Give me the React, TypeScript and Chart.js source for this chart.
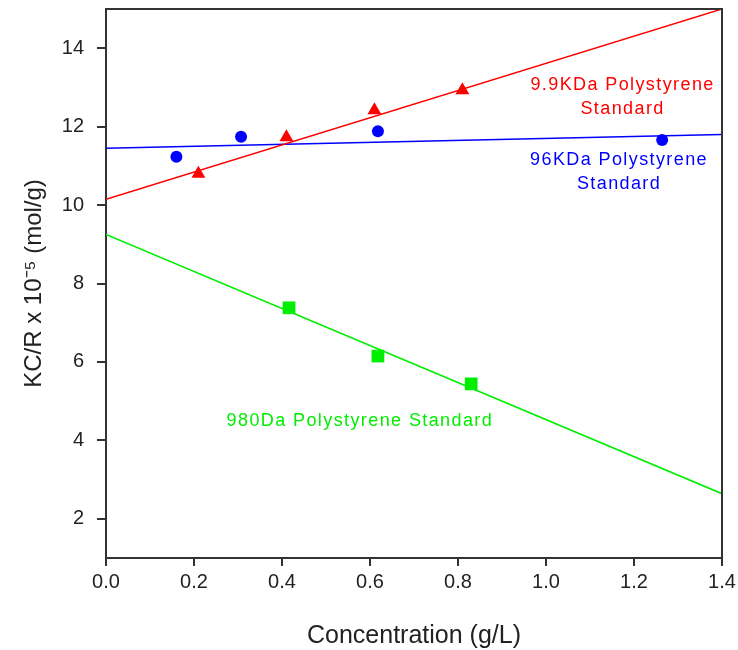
import React, { useEffect, useRef } from "react";
import { Chart, registerables } from "chart.js";

Chart.register(...registerables);

const redX = [0.21, 0.41, 0.61, 0.81];
const redY = [10.8, 11.73, 12.42, 12.93];
const blueX = [0.16, 0.307, 0.618, 1.264];
const blueY = [11.23, 11.74, 11.88, 11.66];
const greenX = [0.416, 0.618, 0.83];
const greenY = [7.38, 6.15, 5.44];

const redFitX = [0, 1.4];
const redFitY = [10.15, 15.0];
const blueFitX = [0, 1.4];
const blueFitY = [11.45, 11.8];
const greenFitX = [0, 1.4];
const greenFitY = [9.25, 2.64];

const xTicks = [0, 0.2, 0.4, 0.6, 0.8, 1.0, 1.2, 1.4];
const yTicks = [2, 4, 6, 8, 10, 12, 14];

const RED = "#ff0000";
const BLUE = "#0000ff";
const GREEN = "#00ee00";
const FONT = "'Liberation Sans', Arial, sans-serif";

const labels = [
  { lines: ["9.9KDa Polystyrene", "Standard"], x: 1.174, y: 13.05, color: RED },
  { lines: ["96KDa Polystyrene", "Standard"], x: 1.166, y: 11.15, color: BLUE },
  { lines: ["980Da Polystyrene Standard"], x: 0.577, y: 4.5, color: GREEN },
];

const pts = (xs: number[], ys: number[]) => xs.map((x, i) => ({ x, y: ys[i] }));

export default function App() {
  const ref = useRef<HTMLCanvasElement | null>(null);
  useEffect(() => {
    if (!ref.current) return;
    const framePlugin = {
      id: "frame",
      afterDraw(chart: any) {
        const { ctx, chartArea, scales } = chart;
        ctx.save();
        ctx.strokeStyle = "#333";
        ctx.lineWidth = 2;
        ctx.beginPath();
        ctx.moveTo(chartArea.left, chartArea.top);
        ctx.lineTo(chartArea.right, chartArea.top);
        ctx.lineTo(chartArea.right, chartArea.bottom);
        ctx.stroke();
        ctx.font = `18px ${FONT}`;
        try { (ctx as any).letterSpacing = "1.4px"; } catch (e) {}
        ctx.textAlign = "center";
        ctx.textBaseline = "middle";
        for (const l of labels) {
          const px = scales.x.getPixelForValue(l.x);
          const py = scales.y.getPixelForValue(l.y);
          ctx.fillStyle = l.color;
          l.lines.forEach((t, i) => ctx.fillText(t, px, py + i * 24));
        }
        ctx.restore();
      },
    };
    const chart = new Chart(ref.current, {
      type: "scatter",
      data: {
        datasets: [
          { type: "line", data: pts(redFitX, redFitY), borderColor: RED, borderWidth: 1.5, pointRadius: 0, showLine: true, fill: false },
          { type: "line", data: pts(blueFitX, blueFitY), borderColor: BLUE, borderWidth: 1.5, pointRadius: 0, showLine: true, fill: false },
          { type: "line", data: pts(greenFitX, greenFitY), borderColor: GREEN, borderWidth: 1.5, pointRadius: 0, showLine: true, fill: false },
          { data: pts(redX, redY), pointStyle: "triangle", pointRadius: 8, backgroundColor: RED, borderColor: RED, borderWidth: 0 },
          { data: pts(blueX, blueY), pointStyle: "circle", pointRadius: 6, backgroundColor: BLUE, borderColor: BLUE, borderWidth: 0 },
          { data: pts(greenX, greenY), pointStyle: "rect", pointRadius: 9, backgroundColor: GREEN, borderColor: GREEN, borderWidth: 0 },
        ] as any,
      },
      options: {
        animation: false,
        responsive: false,
        maintainAspectRatio: false,
        layout: { padding: { top: 9, right: 16, left: 16, bottom: 0 } },
        plugins: { legend: { display: false }, tooltip: { enabled: false } },
        scales: {
          x: {
            type: "linear",
            min: 0,
            max: 1.4,
            afterBuildTicks: (s: any) => { s.ticks = xTicks.map((v) => ({ value: v })); },
            afterFit: (s: any) => { s.height = 92; s.paddingLeft = 0; s.paddingRight = 0; },
            grid: { drawOnChartArea: false, drawTicks: true, tickLength: 8, color: "#333", lineWidth: 2 },
            border: { display: true, color: "#333", width: 2 },
            ticks: { color: "#222", font: { size: 20, family: FONT }, padding: 4, maxRotation: 0, callback: (v: any) => Number(v).toFixed(1) },
            title: { display: true, text: "Concentration (g/L)", color: "#222", font: { size: 25, family: FONT }, padding: { top: 4, bottom: -1 } },
          },
          y: {
            type: "linear",
            min: 1,
            max: 15,
            afterBuildTicks: (s: any) => { s.ticks = yTicks.map((v) => ({ value: v })); },
            afterFit: (s: any) => { s.width = 90; s.paddingTop = 0; s.paddingBottom = 0; },
            grid: { drawOnChartArea: false, drawTicks: true, tickLength: 9, color: "#333", lineWidth: 2 },
            border: { display: true, color: "#333", width: 2 },
            ticks: { color: "#222", font: { size: 20, family: FONT }, padding: 13, callback: (v: any) => String(v) },
            title: { display: true, text: "KC/R x 10⁻⁵ (mol/g)", color: "#222", font: { size: 24, family: FONT }, padding: { top: 4, bottom: 4 } },
          },
        },
      },
      plugins: [framePlugin],
    });
    return () => chart.destroy();
  }, []);
  return (
    <div style={{ position: "fixed", left: 0, top: 0, width: 738, height: 650, background: "#fff" }}>
      <canvas ref={ref} width={738} height={650} style={{ display: "block" }} />
    </div>
  );
}
